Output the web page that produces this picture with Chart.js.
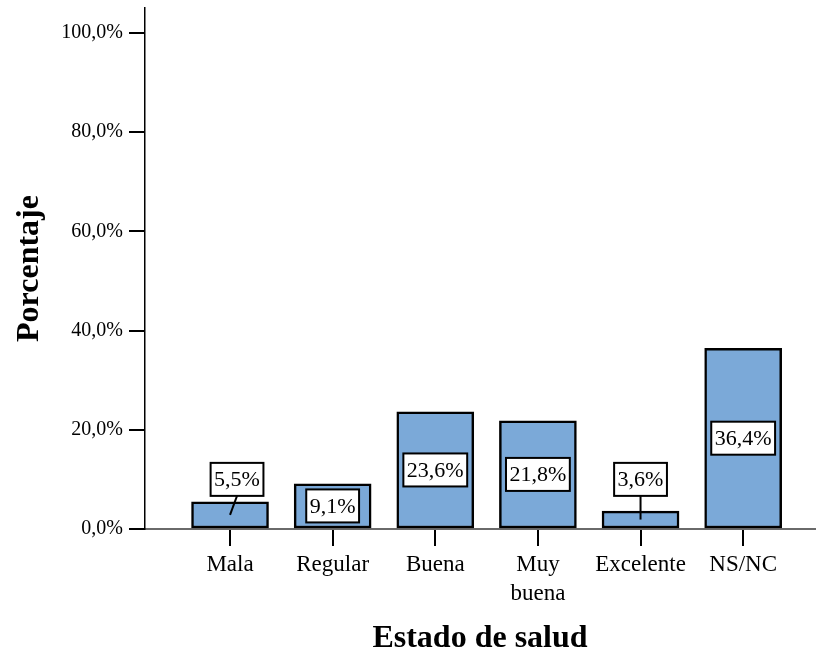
<!DOCTYPE html>
<html>
<head>
<meta charset="utf-8">
<script src="https://cdn.jsdelivr.net/npm/chart.js@4.4.1/dist/chart.umd.min.js"></script>
<style>
  html, body { margin: 0; padding: 0; background: #fff; }
  #chart { display: block; }
</style>
</head>
<body>
<canvas id="chart" width="817" height="652"></canvas>
<script>
// --- DATA ---
const categories = ['Mala', 'Regular', 'Buena', ['Muy', 'buena'], 'Excelente', 'NS/NC'];
const percentages = [5.5, 9.1, 23.6, 21.8, 3.6, 36.4];
const yTicks = [0, 20, 40, 60, 80, 100];

const SERIF = "'Liberation Serif', 'Times New Roman', serif";

function pct(v) { return v.toFixed(1).replace('.', ',') + '%'; }

// boxed value labels, moved above the bar with a leader line when the bar is too short
const boxLabels = {
  id: 'boxLabels',
  afterDatasetsDraw(chart, args, opts) {
    const ctx = chart.ctx;
    const meta = chart.getDatasetMeta(0);
    const yScale = chart.scales.y;
    ctx.save();
    ctx.font = '22px ' + SERIF;
    ctx.textAlign = 'center';
    ctx.textBaseline = 'middle';
    meta.data.forEach((bar, i) => {
      const text = pct(percentages[i]);
      const w = ctx.measureText(text).width + 7;
      const h = 33;
      const barH = bar.base - bar.y;
      let cx = bar.x, cy = (bar.y + bar.base) / 2;
      const outside = barH < h + 6;
      if (outside) {
        cy = yScale.getPixelForValue(opts.outsideAt);
        cx = bar.x + (opts.shift[i] || 0);
        ctx.strokeStyle = '#000';
        ctx.lineWidth = 2;
        ctx.beginPath();
        ctx.moveTo(cx, cy + h / 2);
        ctx.lineTo(bar.x, (bar.y + bar.base) / 2);
        ctx.stroke();
      }
      ctx.fillStyle = '#fff';
      ctx.fillRect(cx - w / 2, cy - h / 2, w, h);
      ctx.strokeStyle = '#000';
      ctx.lineWidth = 2;
      ctx.strokeRect(cx - w / 2, cy - h / 2, w, h);
      ctx.fillStyle = '#000';
      ctx.fillText(text, cx, cy + 1);
    });
    ctx.restore();
  }
};

new Chart(document.getElementById('chart'), {
  type: 'bar',
  data: {
    datasets: [{
      data: percentages.map((v, i) => ({ x: i, y: v })),
      backgroundColor: '#7BA9D8',
      borderColor: '#000',
      borderWidth: 2.5,
      borderSkipped: false,
      barThickness: 77
    }]
  },
  options: {
    responsive: false,
    devicePixelRatio: 1,
    animation: false,
    layout: { padding: { top: 8, right: 2, left: 0, bottom: 0 } },
    plugins: {
      legend: { display: false },
      tooltip: { enabled: false },
      boxLabels: { outsideAt: 10, shift: { 0: 7 } }
    },
    scales: {
      x: {
        type: 'linear',
        min: -0.8285,
        max: 5.70,
        offset: false,
        afterFit(scale) {
          scale.height = 123;
          scale.paddingLeft = 0;
          scale.paddingRight = 0;
        },
        afterBuildTicks(scale) { scale.ticks = categories.map((_, i) => ({ value: i })); },
        grid: { offset: false, drawOnChartArea: false, color: '#000', lineWidth: 2, tickLength: 17 },
        border: { color: '#6a6a6a', width: 2 },
        ticks: {
          autoSkip: false,
          maxRotation: 0,
          padding: 5,
          color: '#000',
          font: { family: SERIF, size: 23, lineHeight: 1.25 },
          callback: (v) => categories[v]
        },
        title: {
          display: true,
          text: 'Estado de salud',
          color: '#000',
          font: { family: SERIF, size: 32, weight: 'bold', lineHeight: 0.82 },
          padding: { top: 0, bottom: 0 }
        }
      },
      y: {
        min: 0,
        max: 105,
        afterFit(scale) {
          scale.width = 145;
          scale.paddingTop = 0;
          scale.paddingBottom = 0;
        },
        afterBuildTicks(scale) { scale.ticks = yTicks.map(v => ({ value: v })); },
        grid: { drawOnChartArea: false, color: '#000', lineWidth: 2, tickLength: 16 },
        border: { color: '#000', width: 1.5 },
        ticks: {
          padding: 6,
          color: '#000',
          font: { family: SERIF, size: 20 },
          callback: (v) => pct(v)
        },
        title: {
          display: true,
          text: 'Porcentaje',
          color: '#000',
          font: { family: SERIF, size: 32, weight: 'bold', lineHeight: 1 },
          padding: { top: 14, bottom: 0 }
        }
      }
    }
  },
  plugins: [boxLabels]
});
</script>
</body>
</html>
